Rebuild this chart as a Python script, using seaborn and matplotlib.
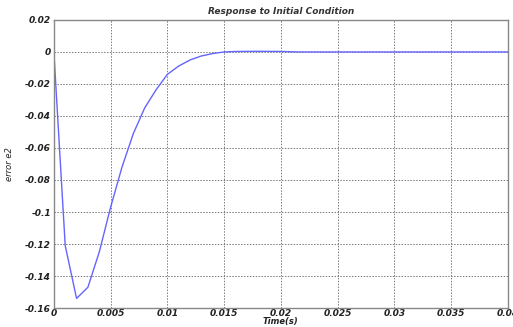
import matplotlib
matplotlib.use("Agg")
import matplotlib.pyplot as plt
import seaborn as sns
import pandas as pd

time_s = [0.0, 0.001, 0.002, 0.003, 0.004, 0.005, 0.006, 0.007, 0.008, 0.009,
          0.010, 0.011, 0.012, 0.013, 0.014, 0.015, 0.016, 0.018, 0.020, 0.0215,
          0.025, 0.030, 0.035, 0.040]
error_e2 = [0.0, -0.121, -0.154, -0.147, -0.125, -0.097, -0.072, -0.051, -0.035, -0.0237,
            -0.014, -0.0088, -0.005, -0.0025, -0.001, 0.0, 0.0003, 0.0004, 0.0003, 0.0,
            0.0, 0.0, 0.0, 0.0]
x_ticks = [0, 0.005, 0.01, 0.015, 0.02, 0.025, 0.03, 0.035, 0.04]
x_labels = ["0", "0.005", "0.01", "0.015", "0.02", "0.025", "0.03", "0.035", "0.04"]
y_ticks = [-0.16, -0.14, -0.12, -0.1, -0.08, -0.06, -0.04, -0.02, 0, 0.02]
y_labels = ["-0.16", "-0.14", "-0.12", "-0.1", "-0.08", "-0.06", "-0.04", "-0.02", "0", "0.02"]

df = pd.DataFrame({"t": time_s, "e": error_e2})

sns.set_style("white")
plt.rcParams["font.family"] = ["DejaVu Sans"]

fig = plt.figure(figsize=(5.13, 3.27), dpi=100)
ax = fig.add_axes([0.105, 0.058, 0.885, 0.881])
sns.lineplot(data=df, x="t", y="e", ax=ax, color="#6464ff", linewidth=1.0)

ax.set_xlim(0, 0.04)
ax.set_ylim(-0.16, 0.02)
ax.set_xticks(x_ticks)
ax.set_xticklabels(x_labels)
ax.set_yticks(y_ticks)
ax.set_yticklabels(y_labels)
ax.grid(True, linestyle=(0, (1.5, 1.5)), color="#7a7a7a", linewidth=0.7)
ax.set_axisbelow(True)
for sp in ax.spines.values():
    sp.set_color("#888888")
    sp.set_linewidth(1.0)
ax.tick_params(axis="both", length=0, labelsize=6.5)
ax.tick_params(axis="x", pad=1)
ax.tick_params(axis="y", pad=2)
for lbl in ax.get_xticklabels() + ax.get_yticklabels():
    lbl.set_fontstyle("italic")
    lbl.set_fontweight("bold")
    lbl.set_color("#222222")

ax.set_title("Response to Initial Condition", fontsize=6.5, fontstyle="italic",
             fontweight="bold", color="#333333", pad=4)
ax.set_xlabel("Time(s)", fontsize=6, fontstyle="italic", fontweight="bold",
              color="#222222", labelpad=-1)
ax.set_ylabel("error e2", fontsize=6, fontstyle="italic", color="#222222", labelpad=8)

fig.savefig("out.png", dpi=100)
